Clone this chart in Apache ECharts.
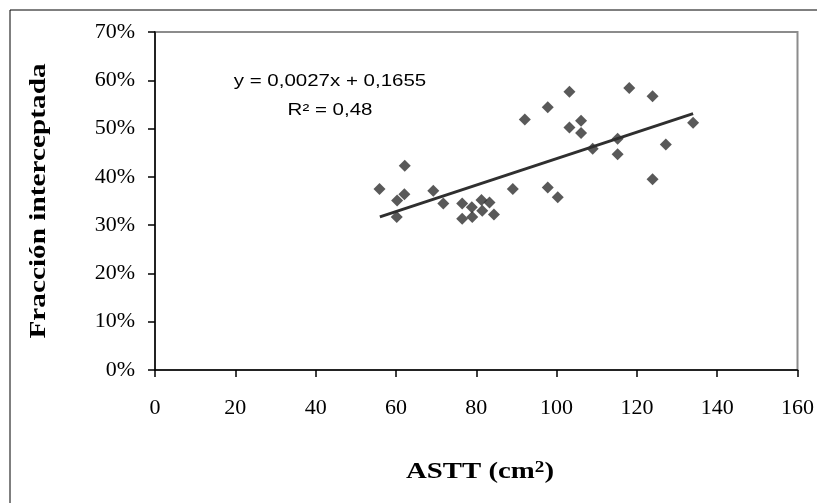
<!DOCTYPE html>
<html>
<head>
<meta charset="utf-8">
<script src="https://cdn.jsdelivr.net/npm/echarts@6/dist/echarts.min.js"></script>
<style>
  html, body { margin: 0; padding: 0; background: #fff; }
  #chart { width: 817px; height: 503px; }
</style>
</head>
<body>
<div id="chart"></div>
<script>
// ASTT (cm2) vs fracción interceptada
const astt = [55.9, 60.2, 60.3, 62.1, 62.2, 69.3, 71.8, 76.5, 76.5, 78.9, 79.0, 81.3, 81.5, 83.3, 84.4, 89.1,
  92.1, 97.8, 97.8, 100.3, 103.2, 103.2, 106.1, 106.1, 109.0, 115.2, 115.2, 118.1, 123.9, 123.9, 127.2, 134.0]
const fraccion = [0.375, 0.317, 0.351, 0.364, 0.423, 0.371, 0.345, 0.345, 0.313, 0.337, 0.317, 0.352, 0.330, 0.347, 0.322, 0.375,
  0.519, 0.544, 0.378, 0.358, 0.576, 0.502, 0.516, 0.491, 0.458, 0.479, 0.447, 0.584, 0.567, 0.395, 0.467, 0.512]

// línea de tendencia (extremos)
const trendX = [56, 134]
const trendY = [0.317, 0.531]

const ecuacion = 'y = 0,0027x + 0,1655'
const r2Texto = 'R² = 0,48'

const serif = 'Liberation Serif'
const sans = 'Liberation Sans'

const chart = echarts.init(document.getElementById('chart'))

chart.setOption({
  animation: false,
  backgroundColor: '#fff',
  grid: {
    left: 155, top: 32, right: 17, bottom: 133,
    show: true, borderColor: '#8c8c8c', borderWidth: 2, backgroundColor: 'transparent'
  },
  xAxis: {
    type: 'value', min: 0, max: 160, interval: 20,
    axisLine: { show: true, lineStyle: { color: '#000', width: 1.5 } },
    axisTick: { show: true, length: 7, lineStyle: { color: '#000', width: 1.5 } },
    axisLabel: { color: '#000', fontFamily: serif, fontSize: 22, margin: 27 },
    splitLine: { show: false }
  },
  yAxis: {
    type: 'value', min: 0, max: 0.7, interval: 0.1,
    axisLine: { show: true, lineStyle: { color: '#000', width: 1.5 } },
    axisTick: { show: true, length: 7, lineStyle: { color: '#000', width: 1.5 } },
    axisLabel: {
      color: '#000', fontFamily: serif, fontSize: 22, margin: 20,
      formatter: v => Math.round(v * 100) + '%'
    },
    splitLine: { show: false }
  },
  graphic: [
    // marco exterior (solo se ven arriba e izquierda)
    {
      type: 'rect', silent: true, z: 100,
      shape: { x: 10, y: 10, width: 900, height: 600 },
      style: { fill: 'none', stroke: '#000', lineWidth: 1 }
    },
    {
      type: 'text', x: 330, y: 82, scaleX: 1.28,
      style: { text: ecuacion, fontFamily: sans, fontSize: 16, fill: '#000', align: 'center', verticalAlign: 'middle' }
    },
    {
      type: 'text', x: 330, y: 111, scaleX: 1.28,
      style: { text: r2Texto, fontFamily: sans, fontSize: 16, fill: '#000', align: 'center', verticalAlign: 'middle' }
    },
    {
      type: 'text', x: 39, y: 201, rotation: Math.PI / 2, scaleX: 1.22,
      style: {
        text: 'Fracción interceptada', fontFamily: serif, fontSize: 24, fontWeight: 'bold',
        fill: '#000', align: 'center', verticalAlign: 'middle'
      }
    },
    {
      type: 'text', x: 480, y: 472, scaleX: 1.2,
      style: {
        text: '{b|ASTT (cm}{s|2}{b|)}', align: 'center', verticalAlign: 'middle',
        rich: {
          b: { fontFamily: serif, fontSize: 24, fontWeight: 'bold', fill: '#000' },
          s: { fontFamily: serif, fontSize: 16, fontWeight: 'bold', fill: '#000', verticalAlign: 'top' }
        }
      }
    }
  ],
  series: [
    {
      name: 'datos',
      type: 'scatter',
      symbol: 'diamond',
      symbolSize: 12,
      itemStyle: { color: '#2f2f2f' },
      data: astt.map((x, i) => [x, fraccion[i]]),
      z: 3
    },
    {
      name: 'tendencia',
      type: 'line',
      symbol: 'none',
      lineStyle: { color: '#2f2f2f', width: 3 },
      data: trendX.map((x, i) => [x, trendY[i]]),
      z: 2
    }
  ]
})
</script>
</body>
</html>
